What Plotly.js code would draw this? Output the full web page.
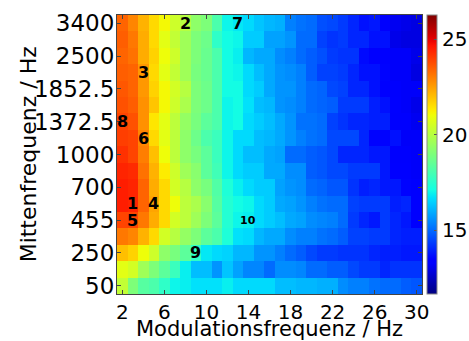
<!DOCTYPE html>
<html>
<head>
<meta charset="utf-8">
<script src="https://cdn.plot.ly/plotly-3.0.1.min.js"></script>
<style>html,body{margin:0;padding:0;background:#fff;}#chart{width:469px;height:341px;}</style>
</head>
<body>
<div id="chart"></div>
<script>
// Modulation frequencies (Hz), x axis
const modFreq = [2,3,4,5,6,7,8,9,10,11,12,13,14,15,16,17,18,19,20,21,22,23,24,25,26,27,28,29,30];
// Centre frequencies (Hz), y axis, bottom to top
const centreFreq = ['50','150','250','350','455','570','700','845','1000','1175','1372.5','1600','1852.5','2150','2500','2900','3400'];
const yTickLabels = ['50','250','455','700','1000','1372.5','1852.5','2500','3400'];
const xTickVals = [2,6,10,14,18,22,26,30];
const cbTicks = [15,20,25];

// Values per centre frequency row (bottom to top), one value per modulation frequency
const r50   = [20.2,19.0,18.3,18.1,17.6,17.0,16.9,16.7,16.7,16.7, 16.9,16.6,16.6,16.6,16.6,16.2,16.2,16.1,16.1, 16.0,16.0,15.5,15.3,15.3,15.1,15.0,15.0,14.8,14.7];
const r150  = [20.8,20.5,19.6,19.0,18.4,17.8,16.9,16.2,16.2,15.6, 16.3,15.8,15.4,15.4,15.0,15.5,15.5,15.4,15.0, 15.0,14.8,14.8,14.5,14.3,14.3,14.0,14.2,14.2,14.2];
const r250  = [22.0,21.7,21.0,20.4,19.3,18.9,18.4,17.6,16.8,16.6, 16.5,16.1,16.1,15.6,15.6,15.3,15.0,14.8,14.5, 14.3,14.3,14.2,14.2,14.2,14.0,13.9,13.9,13.8,13.8];
const r350  = [23.1,22.9,22.2,21.6,20.5,20.0,19.4,19.0,18.4,18.1, 17.3,16.7,16.6,16.1,15.9,15.9,15.5,15.3,15.3, 15.1,15.0,14.8,14.4,14.4,14.3,14.3,14.0,13.9,13.9];
const r455  = [23.9,23.9,23.1,22.3,21.6,20.5,20.1,19.6,19.0,18.4, 17.4,17.0,16.9,16.6,16.4,16.2,15.9,15.8,15.5, 15.4,15.3,15.0,14.3,14.0,13.8,14.3,14.0,13.8,13.3];
const r570  = [24.5,24.4,23.4,22.4,21.6,21.0,20.1,19.8,19.2,18.3, 17.4,17.1,17.0,16.6,16.4,15.9,15.8,15.6,15.3, 15.1,15.0,15.0,14.4,14.3,14.3,14.3,13.9,14.0,13.3];
const r700  = [24.5,24.4,23.4,22.3,21.6,20.5,20.0,19.3,18.9,18.2, 17.3,16.9,16.6,16.4,16.4,15.8,15.6,15.5,15.0, 14.9,14.7,14.7,14.2,13.9,14.0,13.8,13.8,13.5,13.3];
const r845  = [24.4,24.3,23.2,22.2,21.3,20.4,19.6,19.2,18.4,17.9, 17.0,16.6,16.4,16.4,15.9,15.9,15.5,15.5,14.8, 14.7,14.5,14.5,14.3,14.3,14.3,13.8,13.4,13.4,13.2];
const r1000 = [24.2,23.9,23.0,22.0,21.0,20.1,19.3,18.9,18.4,17.8, 17.0,16.6,16.2,16.2,15.9,15.8,15.0,15.0,14.8, 14.7,14.5,14.0,14.0,14.0,13.8,13.8,13.3,13.3,13.2];
const r1175 = [24.0,23.9,22.9,21.6,20.8,20.1,19.3,18.7,18.1,17.8, 17.0,16.6,16.6,16.2,16.1,15.9,15.6,15.3,15.1, 15.0,14.5,14.5,14.5,14.0,13.5,13.5,13.7,13.2,13.2];
const r1372 = [23.9,23.7,22.7,21.4,20.8,20.1,19.4,18.9,18.4,18.1, 17.0,17.1,16.6,16.4,16.2,15.9,15.6,15.1,15.1, 15.0,14.4,14.2,14.0,14.0,13.9,13.9,13.3,13.3,13.1];
const r1600 = [23.7,23.5,22.7,21.9,21.1,20.4,19.8,19.0,18.7,18.1, 17.0,17.1,16.7,16.2,16.1,15.6,15.5,15.3,15.0, 14.9,14.8,14.3,14.3,14.3,13.9,13.7,13.4,13.2,13.0];
const r1852 = [23.6,23.4,22.6,21.7,21.1,20.5,20.0,19.0,18.7,18.1, 17.1,17.1,16.6,16.4,15.9,15.6,15.6,15.3,15.0, 14.9,14.5,14.4,14.0,14.0,13.7,13.4,13.3,13.2,13.2];
const r2150 = [23.5,23.4,22.6,21.6,20.8,20.2,19.6,18.9,18.6,18.1, 17.1,17.0,16.6,16.2,15.9,15.6,15.5,15.3,14.8, 14.4,14.4,14.3,14.0,13.7,13.7,13.5,13.2,13.2,12.9];
const r2500 = [23.4,23.2,22.3,21.7,21.0,20.4,19.6,19.0,18.6,18.1, 17.1,16.9,16.1,15.9,15.9,15.5,15.3,15.0,14.8, 14.6,14.3,14.2,14.2,13.6,13.4,13.4,13.2,13.2,13.0];
const r2900 = [23.5,23.1,22.3,21.6,20.8,20.2,19.6,19.0,18.7,17.6, 17.1,17.0,16.4,16.4,15.8,15.8,15.6,15.0,15.0, 14.4,14.2,14.3,14.0,14.0,13.7,13.7,13.0,12.9,12.9];
const r3400 = [23.4,22.9,22.2,21.6,21.1,20.4,20.0,19.3,19.0,18.1, 17.0,16.8,16.6,16.3,16.1,16.0,15.3,15.1,15.0, 14.6,14.5,14.3,14.0,13.7,13.8,13.3,13.1,13.0,12.9];

// Numbered markers: modulation frequency and centre frequency of each
const labelText = ['1','2','3','4','5','6','7','8','9','10'];
const labelX    = [3, 8, 4, 5, 3, 4, 13, 2, 9, 14];
const labelY    = ['570','3400','2150','570','455','1175','3400','1372.5','250','455'];

const xTitle = 'Modulationsfrequenz / Hz';
const yTitle = 'Mittenfrequenz / Hz';

const zMin = 11.65, zMax = 26.27;

// matplotlib-style jet colour scale
function jetScale() {
  const seg = {
    r: [[0,0],[0.35,0],[0.66,1],[0.89,1],[1,0.5]],
    g: [[0,0],[0.125,0],[0.375,1],[0.64,1],[0.91,0],[1,0]],
    b: [[0,0.5],[0.11,1],[0.34,1],[0.65,0],[1,0]]
  };
  function interp(pts, t) {
    for (let i = 1; i < pts.length; i++) {
      if (t <= pts[i][0]) {
        const a = pts[i-1], b = pts[i];
        return a[1] + (b[1]-a[1]) * (t-a[0]) / (b[0]-a[0]);
      }
    }
    return pts[pts.length-1][1];
  }
  const out = [];
  for (let i = 0; i <= 64; i++) {
    const t = i/64;
    out.push([t, 'rgb(' + Math.round(255*interp(seg.r,t)) + ',' + Math.round(255*interp(seg.g,t)) + ',' + Math.round(255*interp(seg.b,t)) + ')']);
  }
  return out;
}

const zRows = [r50,r150,r250,r350,r455,r570,r700,r845,r1000,r1175,r1372,r1600,r1852,r2150,r2500,r2900,r3400];
// row positions on the y axis (one per centre frequency, evenly spaced)
const rowPos = centreFreq.map((_, i) => i);
const posOf = f => centreFreq.indexOf(f);

const font = 'DejaVu Sans, sans-serif';

const trace = {
  type: 'heatmap',
  x: modFreq,
  y: rowPos,
  z: zRows,
  zmin: zMin, zmax: zMax,
  colorscale: jetScale(),
  hoverinfo: 'skip',
  colorbar: {
    thickness: 10, len: 1, lenmode: 'fraction', y: 0.5, yanchor: 'middle',
    x: 1.016, xanchor: 'left', xpad: 0, ypad: 0,
    outlinewidth: 1, outlinecolor: '#888',
    tickmode: 'array', tickvals: cbTicks,
    ticks: 'inside', ticklen: 3, tickcolor: '#555',
    tickfont: {family: font, size: 20, color: '#000'}
  }
};

const annotations = labelText.map((t, i) => ({
  x: labelX[i], y: posOf(labelY[i]), xref: 'x', yref: 'y',
  text: '<b>' + t + '</b>', showarrow: false,
  font: {family: font, size: t === '10' ? 11 : 16, color: '#000'}
}));
// y-axis title placed as rotated text next to the tick labels
annotations.push({
  xref: 'paper', yref: 'paper', x: -0.289, y: 0.5, xanchor: 'center', yanchor: 'middle',
  text: yTitle, textangle: -90, showarrow: false,
  font: {family: font, size: 22, color: '#000'}
});

const layout = {
  width: 469, height: 341,
  margin: {l: 117, r: 47, t: 15, b: 47, pad: 0, autoexpand: false},
  paper_bgcolor: '#fff', plot_bgcolor: '#fff',
  font: {family: font, color: '#000'},
  xaxis: {
    range: [1.5, 30.5], tickmode: 'array', tickvals: xTickVals,
    ticks: 'inside', ticklen: 4, tickcolor: '#444',
    showline: true, linecolor: '#444', linewidth: 1, mirror: 'ticks',
    showgrid: false, zeroline: false, automargin: false,
    tickfont: {family: font, size: 20, color: '#000'},
    title: {text: xTitle, font: {family: font, size: 21, color: '#000'}, standoff: 6}
  },
  yaxis: {
    range: [-0.5, 16.5], tickmode: 'array',
    tickvals: yTickLabels.map(posOf), ticktext: yTickLabels,
    ticks: 'inside', ticklen: 4, tickcolor: '#444',
    showline: true, linecolor: '#444', linewidth: 1, mirror: 'ticks',
    showgrid: false, zeroline: false, automargin: false,
    ticklabelstandoff: -3,
    tickfont: {family: font, size: 23, color: '#000'}
  },
  annotations: annotations
};

Plotly.newPlot('chart', [trace], layout, {displayModeBar: false, staticPlot: true});
</script>
</body>
</html>
